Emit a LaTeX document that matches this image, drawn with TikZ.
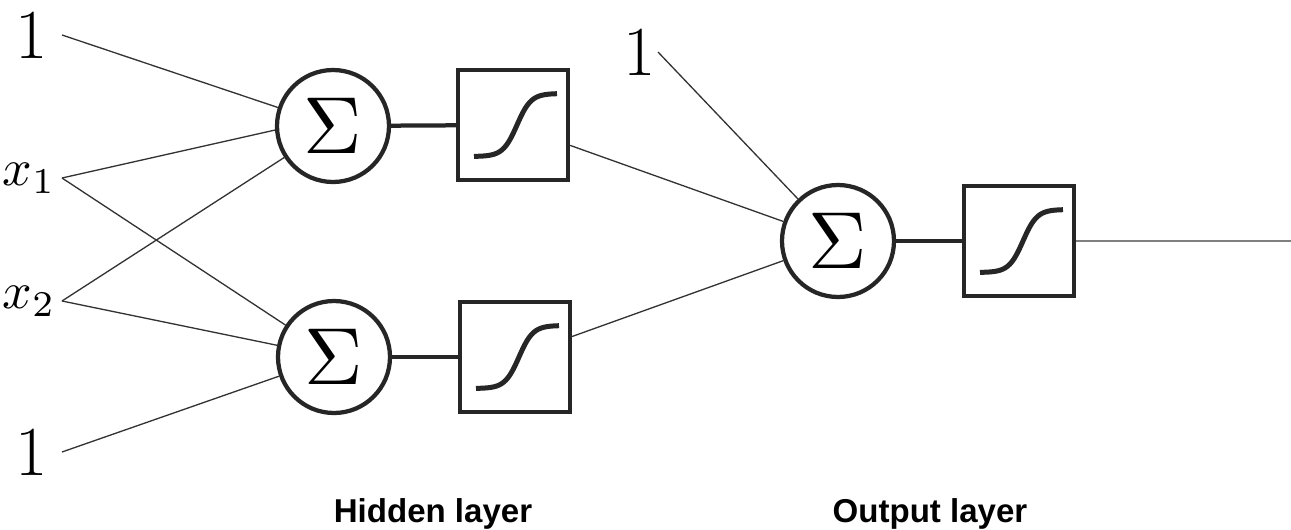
\RequirePackage{fix-cm}
\documentclass[tikz,border=0pt]{standalone}
\usepackage{graphicx}
\usepackage{fontspec}
\newfontfamily\layerfont{Liberation Sans}
\usepackage{tikz}
\usetikzlibrary{positioning}
\newcommand{\sumsign}{\scalebox{4.6}{$\Sigma$}}
\newcommand{\inx}[1]{\scalebox{2.95}{$x_{#1}$}}
\tikzset{
  summer/.style   ={ circle, draw=black!85, line width=0.085cm, fill=white,
                     minimum size=2.24cm, inner sep=0pt },
  squash/.style   ={ rectangle, draw=black!85, line width=0.085cm, fill=white,
                     minimum size=2.2cm, inner sep=0pt,
                     path picture={\draw[line width=0.1cm, shift={(path picture bounding box.center)}]
                       plot[smooth, domain=-0.78:0.88, samples=40] (\x, {0.63*tanh((\x-0.08)/0.28)});} },
  bias/.style     ={ font=\fontsize{40}{48}\selectfont, inner sep=0pt, inner xsep=8pt },
  inlabel/.style  ={ inner sep=0pt, inner xsep=3.4pt },
  layername/.style={ font=\layerfont\bfseries\fontsize{18.8}{22}\selectfont, anchor=base },
%
  wire/.style={draw=black!80, line width=0.75pt},
  link/.style={draw=black!85, line width=0.085cm},
  outwire/.style={draw=black!50, line width=1.2pt}
}

\begin{document}
\begin{tikzpicture}
        \useasboundingbox (0,0) rectangle (25.82,10.58);
        % inputs
        \node[bias, anchor=east] (one1) at (1.24, 9.88) {1};
        \node[inlabel, anchor=east] (x1) at (1.24, 7.02) {\inx{1}};
        \node[inlabel, anchor=east] (x2) at (1.24, 4.56) {\inx{2}};
        \node[bias, anchor=east] (one2) at (1.24, 1.54) {1};
        % hidden layer
        \node[summer] (s1) at (6.66, 8.06) {\sumsign};
        \node[summer] (s2) at (6.68, 3.44) {\sumsign};
        \node[squash] (f1) at (10.26, 8.08) {};
        \node[squash] (f2) at (10.30, 3.44) {};
        % output layer
        \node[bias, anchor=east, inner xsep=1pt] (one3) at (13.16, 9.54) {1};
        \node[summer] (s3) at (16.76, 5.76) {\sumsign};
        \node[squash] (f3) at (20.38, 5.76) {};
        \coordinate (y) at (25.82, 5.76);
        \node[layername] (hidden) at (8.66, 0.14) {Hidden layer};
        \node[layername] (output) at (18.6, 0.14) {Output layer};
        \draw[wire] (one1.east) -- (s1);
        \draw[wire] (x1.east) -- (s1.184);
        \draw[wire] (x1.east) -- (s2);
        \draw[wire] (x2.east) -- (s1);
        \draw[wire] (x2.east) -- (s2);
        \draw[wire] (one2.east) -- (s2);
        \draw[link] (s1) -- (f1);
        \draw[link] (s2) -- (f2);
        \draw[wire] (f1) -- (s3);
        \draw[wire] (f2) -- (s3);
        \draw[wire] (one3.east) -- (s3);
        \draw[link] (s3) -- (f3);
        \draw[outwire] (f3) -- (y);
      \end{tikzpicture}
\end{document}
